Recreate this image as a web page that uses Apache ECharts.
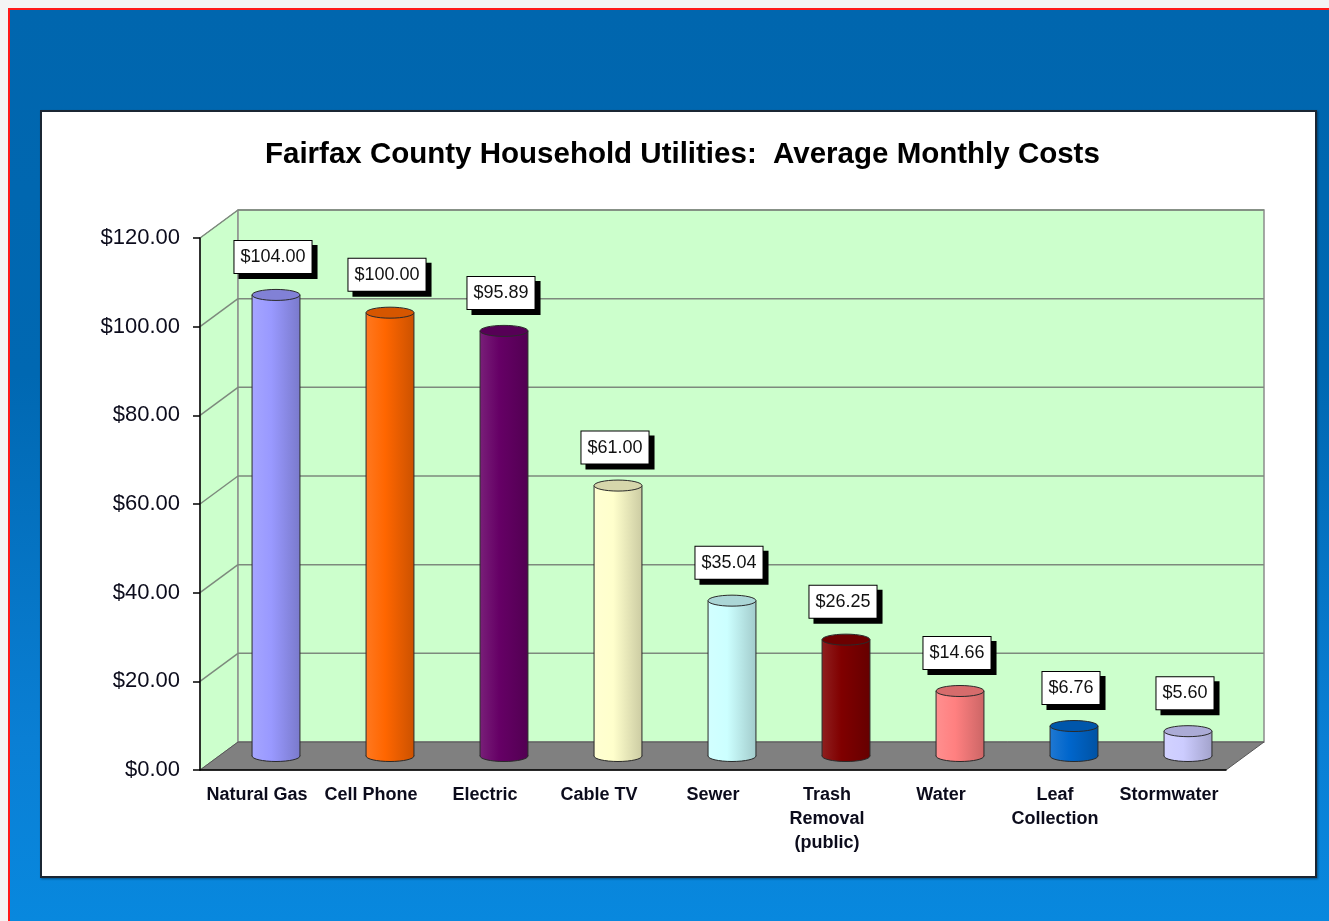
<!DOCTYPE html>
<html>
<head>
<meta charset="utf-8">
<title>Fairfax County Household Utilities</title>
<script src="https://cdn.jsdelivr.net/npm/echarts@6.0.0/dist/echarts.min.js"></script>
<style>
  html, body { margin: 0; padding: 0; background: #f4f4f4; }
  #slide {
    position: absolute; left: 8px; top: 8px; right: 0; bottom: 0;
    border-top: 2px solid #ff1a1a; border-left: 2px solid #ff1a1a;
    background: linear-gradient(to bottom, #0066ae 0%, #0068b2 40%, #0a7fd4 80%, #0888de 100%);
  }
  #box {
    position: absolute; left: 40px; top: 110px; width: 1273px; height: 764px;
    background: #fff; border: 2px solid #1b2633;
    box-shadow: 1px 1px 2px rgba(0,0,0,0.4);
  }
  #main { position: absolute; left: 0; top: 0; width: 1329px; height: 921px; }
</style>
</head>
<body>
<div id="slide"></div>
<div id="box"></div>
<div id="main"></div>
<script>
const categories = ['Natural Gas', 'Cell Phone', 'Electric', 'Cable TV', 'Sewer',
  'Trash\nRemoval\n(public)', 'Water', 'Leaf\nCollection', 'Stormwater'];
const costs = [104.00, 100.00, 95.89, 61.00, 35.04, 26.25, 14.66, 6.76, 5.60];
const barColors = ['#9999ff', '#ff6600', '#660066', '#ffffcc', '#ccffff',
  '#800000', '#ff8080', '#0066cc', '#ccccff'];
const yTicks = [0, 20, 40, 60, 80, 100, 120];

// fake 3d depth of the plot box
const DX = 38;
const DY = -28;

function mix(hex, target, t) {
  const n = parseInt(hex.slice(1), 16);
  const c = [(n >> 16) & 255, (n >> 8) & 255, n & 255];
  const out = c.map(v => Math.round(v + (target - v) * t));
  return 'rgb(' + out.join(',') + ')';
}

const chartDom = document.getElementById('main');
const myChart = echarts.init(chartDom);

function renderWalls(params, api) {
  const cs = params.coordSys;
  const x0 = cs.x, x1 = cs.x + cs.width;
  const yb = api.coord([0, yTicks[0]])[1];
  const yt = api.coord([0, yTicks[yTicks.length - 1]])[1];
  const children = [
    { type: 'polygon', shape: { points: [[x0, yb], [x0 + DX, yb + DY], [x0 + DX, yt + DY], [x0, yt]] },
      style: { fill: '#ccffcc', stroke: '#8c8c8c', lineWidth: 1 } },
    { type: 'polygon', shape: { points: [[x0 + DX, yt + DY], [x1 + DX, yt + DY], [x1 + DX, yb + DY], [x0 + DX, yb + DY]] },
      style: { fill: '#ccffcc', stroke: '#8c8c8c', lineWidth: 1.5 } },
    { type: 'polygon', shape: { points: [[x0, yb], [x1, yb], [x1 + DX, yb + DY], [x0 + DX, yb + DY]] },
      style: { fill: '#808080', stroke: '#555', lineWidth: 1 } }
  ];
  yTicks.slice(1).forEach(v => {
    const y = api.coord([0, v])[1];
    children.push({ type: 'line', shape: { x1: x0 + DX, y1: y + DY, x2: x1 + DX, y2: y + DY },
      style: { stroke: '#7d8a7d', lineWidth: 1.5 } });
    children.push({ type: 'line', shape: { x1: x0, y1: y, x2: x0 + DX, y2: y + DY },
      style: { stroke: '#7d8a7d', lineWidth: 1.5 } });
  });
  return { type: 'group', children: children };
}

function renderBar(params, api) {
  const i = api.value(0);
  const v = api.value(1);
  const top = api.coord([i, v]);
  const base = api.coord([i, 0]);
  const cx = top[0] + DX / 2;
  const ty = top[1] + DY / 2;
  const by = base[1] + DY / 2;
  const rx = api.size([1, 0])[0] * 0.21;
  const ry = 5.5;
  const c = barColors[i];
  const body = new echarts.graphic.LinearGradient(0, 0, 1, 0, [
    { offset: 0, color: mix(c, 255, 0.12) },
    { offset: 0.4, color: c },
    { offset: 1, color: mix(c, 0, 0.2) }
  ]);
  return {
    type: 'group',
    children: [
      { type: 'ellipse', shape: { cx: cx, cy: by, rx: rx, ry: ry },
        style: { fill: body, stroke: '#2a2a2a', lineWidth: 1 } },
      { type: 'rect', shape: { x: cx - rx, y: ty, width: rx * 2, height: by - ty },
        style: { fill: body } },
      { type: 'line', shape: { x1: cx - rx, y1: ty, x2: cx - rx, y2: by },
        style: { stroke: '#2a2a2a', lineWidth: 1 } },
      { type: 'line', shape: { x1: cx + rx, y1: ty, x2: cx + rx, y2: by },
        style: { stroke: '#2a2a2a', lineWidth: 1 } },
      { type: 'ellipse', shape: { cx: cx, cy: ty, rx: rx, ry: ry },
        style: { fill: mix(c, 0, 0.16), stroke: '#2a2a2a', lineWidth: 1 } },
      { type: 'text', x: cx - 3, y: ty - 38, z2: 10,
        style: {
          text: '$' + v.toFixed(2), font: '18px Arial', fill: '#111',
          align: 'center', verticalAlign: 'middle',
          backgroundColor: '#fff', borderColor: '#000', borderWidth: 1,
          padding: [7, 6, 7, 6],
          shadowColor: '#000', shadowBlur: 0, shadowOffsetX: 5, shadowOffsetY: 5
        } }
    ]
  };
}

const option = {
  animation: false,
  title: {
    text: 'Fairfax County Household Utilities:  Average Monthly Costs',
    left: 260, top: 135,
    textStyle: { fontFamily: 'Arial', fontWeight: 'bold', fontSize: 29.5, color: '#000' }
  },
  grid: { left: 200, top: 238, width: 1026, height: 532 },
  xAxis: {
    type: 'category',
    data: categories,
    z: 10,
    axisLine: { lineStyle: { color: '#000', width: 1.5 } },
    axisTick: { length: 8, lineStyle: { color: '#000', width: 1.5 } },
    axisLabel: {
      interval: 0, margin: 13, lineHeight: 24,
      fontFamily: 'Arial', fontWeight: 'bold', fontSize: 18, color: '#0c0c1c'
    }
  },
  yAxis: {
    type: 'value',
    min: yTicks[0], max: yTicks[yTicks.length - 1], interval: 20,
    z: 10,
    axisLine: { show: true, lineStyle: { color: '#000', width: 1.5 } },
    axisTick: { show: true, length: 7, lineStyle: { color: '#000', width: 1.5 } },
    splitLine: { show: false },
    axisLabel: {
      margin: 20, fontFamily: 'Arial', fontSize: 22, color: '#0c0c1c',
      formatter: v => '$' + v.toFixed(2)
    }
  },
  series: [
    {
      type: 'custom', name: 'walls', silent: true, z: 1,
      renderItem: renderWalls,
      data: [[0, 0]]
    },
    {
      type: 'custom', name: 'costs', z: 3,
      renderItem: renderBar,
      data: costs.map((v, i) => [i, v])
    }
  ]
};

option && myChart.setOption(option);
</script>
</body>
</html>
